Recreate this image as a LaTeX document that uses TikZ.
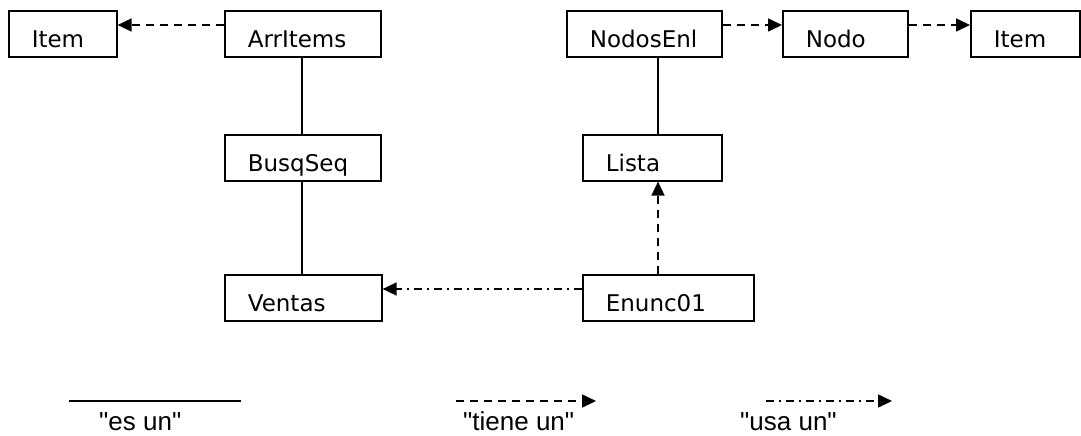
\documentclass[tikz,border=0pt]{standalone}
\usepackage{fontspec}
\setmainfont{DejaVu Sans}
\newfontfamily\legendfont{Liberation Sans}
\usetikzlibrary{arrows.meta}

\tikzset{
  cls/.style={draw, line width=1.6pt, anchor=north west, rectangle,
    inner xsep=23pt, inner ysep=0pt, minimum height=46pt,
    text height=32pt, text depth=4pt, align=left, text width=#1,
    font=\fontsize{23}{25}\selectfont},
  esun/.style={line width=1.6pt},
  tieneun/.style={line width=1.6pt, dash pattern=on 8pt off 6pt,
    -{Triangle[length=14pt,width=13pt]}},
  usaun/.style={line width=1.6pt, dash pattern=on 8pt off 5pt on 2pt off 5pt,
    -{Triangle[length=14pt,width=13pt]}},
  legend/.style={anchor=base west, inner sep=0pt,
    font=\legendfont\fontsize{26}{28}\selectfont}
}

\begin{document}
\begin{tikzpicture}[x=1pt, y=-1pt]
\useasboundingbox (0,0) rectangle (1081,436);

% class boxes
\node[cls=62pt]  (itemL)    at (8,10)    {Item};
\node[cls=110pt] (arritems) at (224,10)  {ArrItems};
\node[cls=110pt] (busqseq)  at (224,134) {BusqSeq};
\node[cls=111pt] (ventas)   at (224,274) {Ventas};
\node[cls=109pt] (nodosenl) at (566,10)  {NodosEnl};
\node[cls=79pt]  (nodo)     at (782,10)  {Nodo};
\node[cls=63pt]  (itemR)    at (970,10)  {Item};
\node[cls=93pt]  (lista)    at (582,134) {Lista};
\node[cls=125pt] (enunc)    at (582,274) {Enunc01};

% helper lines for connector positions
\coordinate (top)   at (0,25);
\coordinate (low)   at (0,289);
\coordinate (colL)  at (302,0);
\coordinate (colR)  at (658,0);

% "es un"
\draw[esun] (arritems.south -| colL) -- (busqseq.north -| colL);
\draw[esun] (busqseq.south -| colL) -- (ventas.north -| colL);
\draw[esun] (nodosenl.south -| colR) -- (lista.north -| colR);

% "tiene un"
\draw[tieneun] (arritems.west |- top) -- (itemL.east |- top);
\draw[tieneun] (nodosenl.east |- top) -- (nodo.west |- top);
\draw[tieneun] (nodo.east |- top) -- (itemR.west |- top);
\draw[tieneun] (enunc.north -| colR) -- (lista.south -| colR);

% "usa un"
\draw[usaun] (enunc.west |- low) -- (ventas.east |- low);

% legend
\coordinate (e1) at (69,401);
\coordinate (e2) at (241,401);
\coordinate (t1) at (456,401);
\coordinate (t2) at (596,401);
\coordinate (u1) at (766,401);
\coordinate (u2) at (892,401);
\draw[esun] (e1) -- (e2);
\draw[tieneun] (t1) -- (t2);
\draw[usaun] (u1) -- (u2);
\node[legend] (le) at (99,430)  {"es un"};
\node[legend] (lt) at (463,430) {"tiene un"};
\node[legend] (lu) at (740,430) {"usa un"};
\end{tikzpicture}
\end{document}
